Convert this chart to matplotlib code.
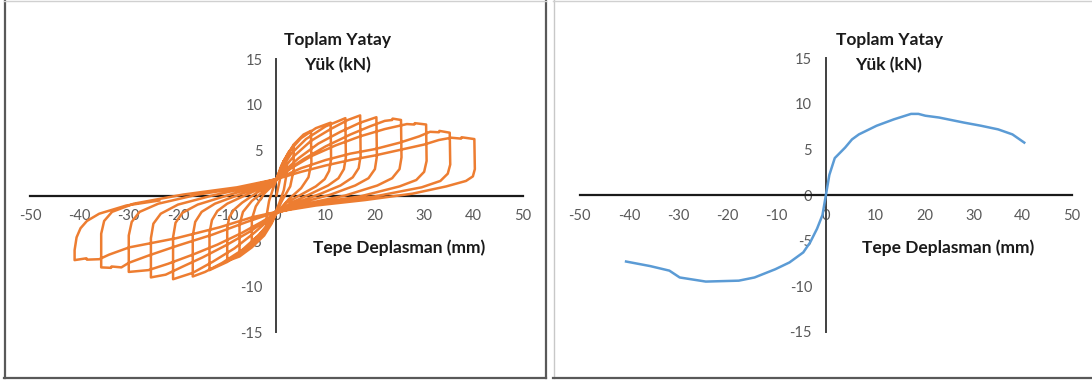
import numpy as np
import matplotlib
matplotlib.use("Agg")
import matplotlib.pyplot as plt
from matplotlib.lines import Line2D

plt.rcParams['font.family'] = ['Lato', 'DejaVu Sans']

# ---------------- data ----------------
x_ticks = [-50, -40, -30, -20, -10, 0, 10, 20, 30, 40, 50]
y_ticks = [-15, -10, -5, 0, 5, 10, 15]
y_label_lines = ["Toplam Yatay", "Yük (kN)"]
x_label = "Tepe Deplasman (mm)"

# cyclic test (left) – one list pair per cycle: displacement (mm), load (kN)
c01_d = [0, 0.8, 2.0, 2.0, 1.5, 0.6, 0, -0.8, -2.0, -2.0, -1.5, -0.6, 0]
c01_f = [0, 2.0, 3.6, 2.2, 0.6, -0.8, -1.6, -2.4, -3.6, -2.2, -0.6, 0.9, 1.7]
c02_d = [0, 1.5, 3.5, 3.5, 2.8, 1.2, 0, -2.0, -4.0, -5.0, -5.0, -4.2, -2.5, -1.0, 0]
c02_f = [1.7, 3.8, 5.5, 2.8, 1.0, -0.5, -1.8, -3.5, -4.6, -5.0, -2.6, -1.2, 0.2, 1.0, 1.8]
c03_d = [0, 1.5, 3.5, 5.5, 7.0, 7.1, 6.5, 5.0, 2.5, 0, -2.0, -4.5, -6.5, -7.5, -7.5, -6.8, -5.0, -2.5, 0]
c03_f = [1.8, 3.8, 5.6, 6.7, 7.1, 3.6, 2.0, 0.8, -0.4, -2.0, -3.4, -5.0, -5.9, -6.2, -3.2, -1.8, -0.6, 0.5, 1.8]
c04_d = [0, 1, 2.5, 5, 8, 11, 11.1, 10.7, 9.8, 8, 5, 2, 0, -1, -2.5, -5, -7.5, -10, -10, -9.6, -8.7, -7, -4, -1.5, 0]
c04_f = [1.8, 3.3, 4.8, 6.3, 7.4, 8.0, 4.0, 2.7, 1.8, 1.0, 0.1, -0.8, -1.9, -3.1, -4.4, -5.7, -6.7, -7.2, -3.6, -2.4,
         -1.6, -0.8, 0.3, 1.1, 1.8]
c05_d = [0, 1.2, 3, 6, 10, 14, 14.1, 13.7, 12.6, 10.5, 7, 3, 0, -1.2, -3, -6, -10, -13.6, -13.6, -13.1, -12, -10, -6, -2.5, 0]
c05_f = [1.8, 3.1, 4.6, 6.2, 7.6, 8.5, 4.2, 2.9, 1.9, 1.1, 0.2, -0.8, -1.9, -3.1, -4.4, -5.9, -7.3, -8.2, -4.1, -2.7,
         -1.7, -0.9, 0.1, 1.0, 1.8]
c06_d = [0, 1.5, 3.5, 7, 11, 14.5, 17, 17.1, 16.7, 15.5, 13, 9, 4, 0, -1.5, -3.5, -7, -11, -14.5, -17,
         -17, -16.5, -15.2, -12.5, -8, -3.5, 0]
c06_f = [1.8, 3.0, 4.3, 6.0, 7.3, 8.3, 8.8, 4.4, 3.0, 2.0, 1.1, 0.2, -0.8, -1.9, -3.0, -4.3, -6.0, -7.4, -8.4, -8.9,
         -4.4, -2.9, -1.8, -0.9, 0.0, 0.9, 1.8]
c07_d = [0, 2, 4.5, 8.5, 13, 17, 20.3, 20.4, 20, 18.7, 16, 11, 5, 0, -2, -4.5, -8.5, -13, -17, -21,
         -21, -20.5, -19.1, -16, -10, -4.5, 0]
c07_f = [1.8, 2.9, 4.1, 5.7, 7.0, 8.0, 8.6, 4.3, 2.9, 1.9, 1.1, 0.1, -0.8, -1.9, -2.9, -4.1, -5.8, -7.3, -8.5, -9.2,
         -4.6, -3.0, -1.9, -1.0, 0.0, 0.9, 1.8]
c08_d = [0, 2.5, 5.5, 10, 15, 19, 22, 23.5, 23.6, 25.3, 25.4, 25, 23.5, 20.5, 14, 6, 0, -2.5, -5.5, -10,
         -15, -19, -22.5, -25.5, -25.5, -25, -23.5, -20, -13, -5.5, 0]
c08_f = [1.8, 2.9, 4.0, 5.4, 6.7, 7.6, 8.2, 8.3, 8.45, 8.3, 4.2, 2.9, 1.9, 1.1, 0.0, -0.9, -1.9, -2.9, -4.0, -5.4,
         -6.8, -7.8, -8.7, -9.0, -4.7, -3.1, -2.0, -1.0, 0.0, 0.9, 1.8]
c09_d = [0, 3, 7, 12, 17, 22, 26.5, 28, 28.1, 30.4, 30.5, 30, 28.4, 25, 17, 7, 0, -3, -7, -12,
         -17, -22, -26, -30, -30, -29.4, -27.8, -24, -16, -6.5, 0]
c09_f = [1.8, 3.0, 4.3, 5.5, 6.5, 7.3, 7.85, 7.8, 7.95, 7.8, 3.8, 2.6, 1.7, 1.0, -0.1, -0.9, -1.9, -2.9, -4.1, -5.4,
         -6.5, -7.5, -8.2, -8.4, -4.4, -2.9, -1.8, -0.9, 0.1, 0.9, 1.8]
c10_d = [0, 5, 10, 15, 20, 25, 29, 31.2, 33, 33.1, 35.2, 35.3, 34.8, 33.3, 29.5, 20, 8, 0, -6, -13,
         -20, -26, -30, -31.5, -33.5, -33.6, -35.6, -35.6, -35, -33.4, -29, -19, -8, 0]
c10_f = [1.8, 3.0, 3.9, 4.6, 5.1, 5.8, 6.5, 7.0, 6.95, 7.1, 6.9, 3.4, 2.4, 1.6, 0.9, -0.1, -0.9, -1.8, -2.9, -4.3,
         -5.5, -6.6, -7.4, -7.9, -7.8, -7.95, -7.9, -4.2, -2.8, -1.8, -0.9, 0.1, 0.9, 1.8]
c11_d = [0, 5, 10, 15, 20, 25, 30, 33, 35.5, 37.5, 37.6, 40.2, 40.3, 39.9, 38.5, 34.5, 27.6, 18, 8, 0,
         -5, -11.6, -20.4, -29.9, -34, -36, -38.5, -38.6, -41, -41, -40.6, -39.8, -38.5, -36, -30.5, -23.8]
c11_f = [1.8, 2.6, 3.3, 3.9, 4.4, 5.0, 5.6, 6.1, 6.35, 6.25, 6.4, 6.2, 2.9, 2.1, 1.6, 1.0, 0.2, -0.5, -1.1, -1.8,
         -2.4, -3.5, -4.7, -5.7, -6.5, -7.0, -7.05, -6.9, -7.1, -6.0, -4.6, -3.6, -2.8, -2.0, -1.1, -0.55]

# envelope (right)
env_d = [-40.6, -35.7, -31.8, -29.7, -24.4, -17.7, -14.5, -10.3, -7.4, -4.6, -3.2, -1.8, -0.7, 0,
         0.7, 1.8, 3.9, 5.3, 6.7, 10.3, 13.8, 17.3, 18.8, 20.2, 23.0, 28.0, 31.5, 35.0, 37.9, 40.3]
env_f = [-7.3, -7.8, -8.3, -9.05, -9.5, -9.4, -9.05, -8.15, -7.4, -6.3, -5.2, -3.7, -2.2, 0,
         2.2, 4.05, 5.2, 6.1, 6.65, 7.6, 8.3, 8.9, 8.9, 8.7, 8.5, 7.95, 7.6, 7.2, 6.65, 5.75]

cycles_d = [c01_d, c02_d, c03_d, c04_d, c05_d, c06_d, c07_d, c08_d, c09_d, c10_d, c11_d]
cycles_f = [c01_f, c02_f, c03_f, c04_f, c05_f, c06_f, c07_f, c08_f, c09_f, c10_f, c11_f]
hyst_d = np.concatenate([np.asarray(a, float) for a in cycles_d])
hyst_f = np.concatenate([np.asarray(a, float) for a in cycles_f])

# ---------------- figure ----------------
W, H = 1092, 381
fig = plt.figure(figsize=(W / 100, H / 100), dpi=100)
fig.patch.set_facecolor('white')

def fx(px):
    return px / W

def fy(py):
    return 1 - py / H

ax1 = fig.add_axes([fx(30.3), fy(332), (522.6 - 30.3) / W, (332 - 59) / H])
ax2 = fig.add_axes([fx(579.8), fy(331.7), (1072 - 579.8) / W, (331.7 - 58.3) / H])

def style(ax):
    ax.set_xlim(-50, 50)
    ax.set_ylim(-15, 15)
    ax.set_facecolor('none')
    for s in ['top', 'right']:
        ax.spines[s].set_visible(False)
    ax.spines['left'].set_position(('data', 0))
    ax.spines['bottom'].set_position(('data', 0))
    ax.spines['bottom'].set_color('#1a1a1a')
    ax.spines['bottom'].set_linewidth(1.6)
    ax.spines['left'].set_color('#404040')
    ax.spines['left'].set_linewidth(1.4)
    ax.set_xticks(x_ticks, labels=[str(t) for t in x_ticks])
    ax.set_yticks(y_ticks, labels=[str(t) for t in y_ticks])
    ax.tick_params(axis='x', length=0, pad=10, labelsize=10.5, labelcolor='#595959')
    ax.tick_params(axis='y', length=0, pad=10, labelsize=10.5, labelcolor='#595959')

style(ax1)
style(ax2)

ax1.plot(hyst_d, hyst_f, color='#ED7D31', lw=1.8, solid_joinstyle='round', zorder=3)
ax2.plot(env_d, env_f, color='#5B9BD5', lw=1.8, solid_joinstyle='round', zorder=3)

# axis titles
for cx, cx2 in [(338, 399), (889, 948.5)]:
    fig.text(fx(cx), fy(40), y_label_lines[0], ha='center', va='center',
             fontsize=12.5, fontweight='bold', color='#1a1a1a')
    fig.text(fx(cx), fy(65), y_label_lines[1], ha='center', va='center',
             fontsize=12.5, fontweight='bold', color='#1a1a1a')
    fig.text(fx(cx2), fy(248), x_label, ha='center', va='center',
             fontsize=12.5, fontweight='bold', color='#1a1a1a')

# panel borders
def vline(px, y0, y1, color, lw):
    fig.add_artist(Line2D([fx(px), fx(px)], [fy(y0), fy(y1)], color=color, lw=lw))

def hline(py, x0, x1, color, lw):
    fig.add_artist(Line2D([fx(x0), fx(x1)], [fy(py), fy(py)], color=color, lw=lw))

vline(4.5, 0, 378, '#595959', 1.6)
vline(545.5, 0, 378, '#595959', 1.6)
hline(377.5, 4, 546, '#595959', 1.6)
hline(0.5, 4, 546, '#d0d0d0', 1.0)
vline(553.5, 0, 378, '#c8c8c8', 1.0)
hline(377.5, 553, 1092, '#595959', 1.6)
hline(0.5, 553, 1092, '#d0d0d0', 1.0)

fig.savefig('out.png', dpi=100, facecolor='white')
